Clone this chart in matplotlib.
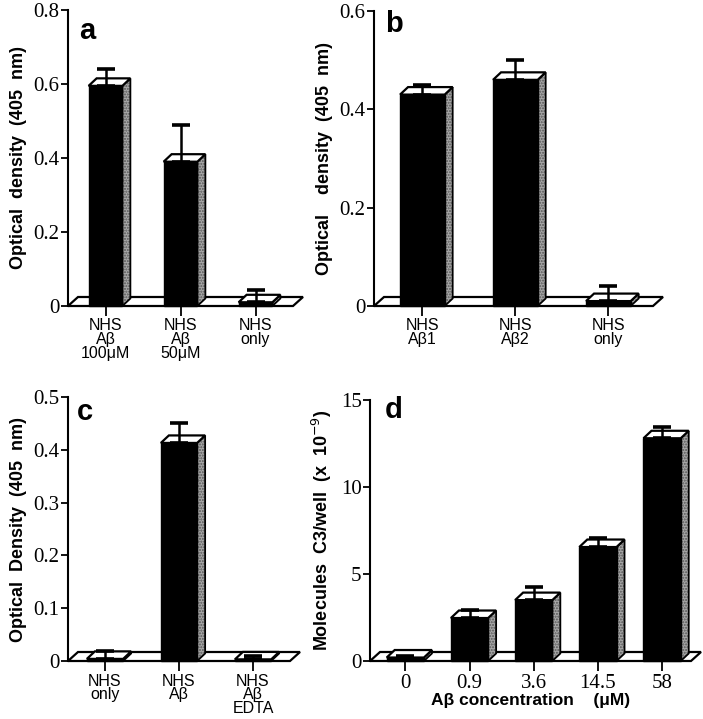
import matplotlib
matplotlib.use("Agg")
import matplotlib.pyplot as plt
from matplotlib.patches import Polygon

# Panel a
a_labels = ["NHS\nAβ\n100μM", "NHS\nAβ\n50μM", "NHS\nonly"]
a_values = [0.595, 0.39, 0.01]
a_errors = [0.045, 0.10, 0.033]
a_yticks = [0, 0.2, 0.4, 0.6, 0.8]
a_yticklabels = ["0", "0.2", "0.4", "0.6", "0.8"]

# Panel b
b_labels = ["NHS\nAβ1", "NHS\nAβ2", "NHS\nonly"]
b_values = [0.43, 0.46, 0.01]
b_errors = [0.02, 0.04, 0.03]
b_yticks = [0, 0.2, 0.4, 0.6]
b_yticklabels = ["0", "0.2", "0.4", "0.6"]

# Panel c
c_labels = ["NHS\nonly", "NHS\nAβ", "NHS\nAβ\nEDTA"]
c_values = [0.004, 0.413, 0.003]
c_errors = [0.014, 0.037, 0.006]
c_yticks = [0, 0.1, 0.2, 0.3, 0.4, 0.5]
c_yticklabels = ["0", "0.1", "0.2", "0.3", "0.4", "0.5"]

# Panel d
d_labels = ["0", "0.9", "3.6", "14.5", "58"]
d_values = [0.2, 2.47, 3.5, 6.55, 12.8]
d_errors = [0.1, 0.45, 0.75, 0.5, 0.65]
d_yticks = [0, 5, 10, 15]
d_yticklabels = ["0", "5", "10", "15"]

SANS = "Liberation Sans"
SERIF = "Liberation Serif"
W, H = 703, 719

fig = plt.figure(figsize=(W / 100, H / 100), dpi=100)


def panel(rect_px, xlim, ylim, values, errors, labels, yticks, yticklabels,
          ylabel, letter, letter_pos, bar_w, serif_xlabels=False):
    left, top, right, bottom = rect_px
    ax = fig.add_axes([left / W, 1 - bottom / H, (right - left) / W, (bottom - top) / H])
    ax.set_xlim(*xlim)
    ax.set_ylim(*ylim)
    # pixel -> data conversions for the fake depth
    px_x = (xlim[1] - xlim[0]) / (right - left)
    px_y = (ylim[1] - ylim[0]) / (bottom - top)
    fdx, fdy = 10 * px_x, 9 * px_y
    bdx, bdy = 8 * px_x, 7.5 * px_y

    # floor
    x0, x1 = xlim
    floor = Polygon([(x0, 0), (x1, 0), (x1 + fdx, fdy), (x0 + fdx, fdy)], closed=True,
                    facecolor="white", edgecolor="black", lw=1.6, clip_on=False, zorder=1)
    ax.add_patch(floor)

    for i, (v, e) in enumerate(zip(values, errors)):
        l, r = i - bar_w / 2, i + bar_w / 2
        side_pts = [(r, 0), (r + bdx, bdy), (r + bdx, v + bdy), (r, v)]
        # stippled grey side: hatch layer, then black outline
        ax.add_patch(Polygon(side_pts, closed=True, facecolor="#a8a8a8", edgecolor="#555555",
                             lw=0, hatch="......", clip_on=False, zorder=2))
        ax.add_patch(Polygon(side_pts, closed=True, fill=False, edgecolor="black", lw=1.3,
                             clip_on=False, zorder=2))
        topf = Polygon([(l, v), (r, v), (r + bdx, v + bdy), (l + bdx, v + bdy)], closed=True,
                       facecolor="white", edgecolor="black", lw=1.6, clip_on=False, zorder=2)
        ax.add_patch(topf)
        ax.bar(i, v, width=bar_w, color="black", edgecolor="black", lw=1.0, zorder=3,
               clip_on=False)
        ax.errorbar(i, v, yerr=[[0], [e]], fmt="none", ecolor="black", elinewidth=1.8,
                    capsize=6.5, capthick=2.6, zorder=4, clip_on=False)

    for s in ["top", "right", "bottom"]:
        ax.spines[s].set_visible(False)
    ax.spines["left"].set_linewidth(1.5)
    ax.spines["left"].set_zorder(5)

    ax.set_yticks(yticks)
    ax.set_yticklabels(yticklabels, fontfamily=SERIF, fontsize=15)
    ax.tick_params(axis="y", direction="out", length=5, width=1.3, pad=1)
    ax.set_xticks(range(len(labels)))
    if serif_xlabels:
        ax.set_xticklabels(labels, fontfamily=SERIF, fontsize=15)
    else:
        ax.set_xticklabels(labels, fontfamily=SANS, fontsize=11.5, linespacing=0.9)
    ax.tick_params(axis="x", direction="out", length=7, width=1.3, pad=2)

    ax.set_ylabel(ylabel, fontfamily=SANS, fontweight="bold", fontsize=13, labelpad=5)
    ax.text(letter_pos[0], letter_pos[1], letter, transform=ax.transAxes, fontfamily=SANS,
            fontweight="bold", fontsize=21, ha="left", va="center")
    return ax


panel((68, 10, 293, 306), (-0.5, 2.5), (0, 0.8), a_values, a_errors, a_labels,
      a_yticks, a_yticklabels, "Optical  density  (405  nm)", "a", (0.05, 0.93), 0.45)

panel((374, 11, 653, 306), (-0.52, 2.48), (0, 0.6), b_values, b_errors, b_labels,
      b_yticks, b_yticklabels, "Optical    density  (405  nm)", "b", (0.04, 0.955), 0.48)

panel((68, 397, 290, 661), (-0.5, 2.5), (0, 0.5), c_values, c_errors, c_labels,
      c_yticks, c_yticklabels, "Optical  Density  (405  nm)", "c", (0.04, 0.945), 0.49)

ax_d = panel((370, 400, 691, 661), (-0.55, 4.45), (0, 15), d_values, d_errors, d_labels,
             d_yticks, d_yticklabels, "Molecules  C3/well  (x  10$^{-9}$)", "d", (0.047, 0.96),
             0.58, serif_xlabels=True)
ax_d.set_xlabel("Aβ concentration    (μM)", fontfamily=SANS, fontweight="bold", fontsize=12.5,
                labelpad=0)

fig.savefig("out.png", dpi=100)
